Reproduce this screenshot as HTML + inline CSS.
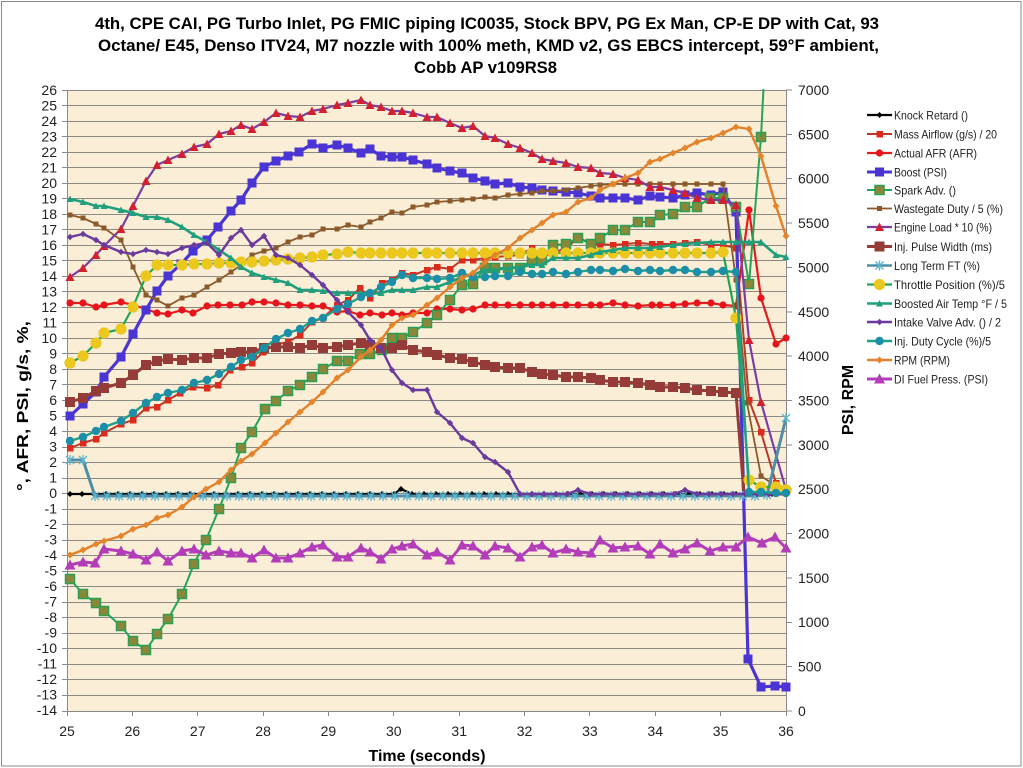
<!DOCTYPE html>
<html><head><meta charset="utf-8"><style>
html,body{margin:0;padding:0;background:#fff;}
svg{display:block;}
text{font-family:"Liberation Sans",Arial,sans-serif;}
</style></head><body>
<svg width="1023" height="768" viewBox="0 0 1023 768" xmlns="http://www.w3.org/2000/svg">
<defs>
<marker id="mKnock" markerUnits="userSpaceOnUse" markerWidth="8" markerHeight="8" refX="4" refY="4" overflow="visible"><path d="M4,1 L7,4 L4,7 L1,4Z" fill="#000"/></marker>
<marker id="mMaf" markerUnits="userSpaceOnUse" markerWidth="8" markerHeight="8" refX="4" refY="4" overflow="visible"><rect x="1" y="1" width="6.5" height="6.5" fill="#dc2a1c"/></marker>
<marker id="mAfr" markerUnits="userSpaceOnUse" markerWidth="8" markerHeight="8" refX="4" refY="4" overflow="visible"><circle cx="4" cy="4" r="3.6" fill="#e8141c"/></marker>
<marker id="mBoost" markerUnits="userSpaceOnUse" markerWidth="10" markerHeight="10" refX="5" refY="5" overflow="visible"><rect x="0.5" y="0.5" width="9" height="9" fill="#4a35d4"/></marker>
<marker id="mSpark" markerUnits="userSpaceOnUse" markerWidth="10" markerHeight="10" refX="5" refY="5" overflow="visible"><rect x="0.5" y="0.5" width="9" height="9" fill="#8a8838" stroke="#2a9e52" stroke-width="1.5"/></marker>
<marker id="mWg" markerUnits="userSpaceOnUse" markerWidth="6" markerHeight="6" refX="3" refY="3" overflow="visible"><rect x="0.5" y="0.5" width="5" height="5" fill="#8b5a2b"/></marker>
<marker id="mLoad" markerUnits="userSpaceOnUse" markerWidth="10" markerHeight="10" refX="5" refY="5" overflow="visible"><path d="M5,0.5 L9.5,9 L0.5,9Z" fill="#d41f2e"/></marker>
<marker id="mIpw" markerUnits="userSpaceOnUse" markerWidth="11" markerHeight="11" refX="5.5" refY="5.5" overflow="visible"><rect x="0.5" y="0.5" width="10" height="10" fill="#953b38"/></marker>
<marker id="mLtft" markerUnits="userSpaceOnUse" markerWidth="10" markerHeight="10" refX="5" refY="5" overflow="visible"><path d="M1,1 L9,9 M9,1 L1,9 M5,0 L5,10" stroke="#5ab4d0" stroke-width="1.3"/></marker>
<marker id="mTps" markerUnits="userSpaceOnUse" markerWidth="12" markerHeight="12" refX="6" refY="6" overflow="visible"><circle cx="6" cy="6" r="5.6" fill="#ecc81e"/></marker>
<marker id="mBat" markerUnits="userSpaceOnUse" markerWidth="8" markerHeight="8" refX="4" refY="4" overflow="visible"><path d="M4,0.5 L7.5,7 L0.5,7Z" fill="#1f9f7c"/></marker>
<marker id="mIva" markerUnits="userSpaceOnUse" markerWidth="8" markerHeight="8" refX="4" refY="4" overflow="visible"><path d="M4,0.8 L7.2,4 L4,7.2 L0.8,4Z" fill="#6a3a9c"/></marker>
<marker id="mIdc" markerUnits="userSpaceOnUse" markerWidth="9" markerHeight="9" refX="4.5" refY="4.5" overflow="visible"><circle cx="4.5" cy="4.5" r="4.2" fill="#1d8ea8"/></marker>
<marker id="mRpm" markerUnits="userSpaceOnUse" markerWidth="8" markerHeight="8" refX="4" refY="4" overflow="visible"><path d="M4,0.5 L7.5,4 L4,7.5 L0.5,4Z" fill="#e5852a"/></marker>
<marker id="mDi" markerUnits="userSpaceOnUse" markerWidth="12" markerHeight="12" refX="6" refY="6" overflow="visible"><path d="M6,0.5 L11.5,10.5 L0.5,10.5Z" fill="#b33cb8"/></marker>
<clipPath id="plotclip"><rect x="55" y="89" width="745" height="624"/></clipPath>
</defs>

<!-- outer border -->
<rect x="1.5" y="1.5" width="1019.5" height="764.5" fill="#fff" stroke="#8a8a8a" stroke-width="1"/>

<!-- title -->
<g font-weight="bold" font-size="17" fill="#000" text-anchor="start">
<text x="95" y="29" textLength="784" lengthAdjust="spacingAndGlyphs">4th, CPE CAI, PG Turbo Inlet, PG FMIC piping  IC0035, Stock BPV, PG Ex Man, CP-E DP with Cat, 93</text>
<text x="98" y="51" textLength="781" lengthAdjust="spacingAndGlyphs">Octane/ E45, Denso ITV24, M7 nozzle with 100% meth, KMD v2, GS EBCS intercept,  59°F ambient,</text>
<text x="414" y="73" textLength="143" lengthAdjust="spacingAndGlyphs">Cobb AP v109RS8</text>
</g>

<!-- plot background -->
<rect x="67" y="90" width="719" height="621" fill="#fbeed6"/>

<!-- gridlines -->
<g stroke="#8d8983" stroke-width="1">
<line x1="67" x2="786" y1="90.5" y2="90.5"/><line x1="67" x2="786" y1="105.5" y2="105.5"/><line x1="67" x2="786" y1="121.5" y2="121.5"/><line x1="67" x2="786" y1="136.5" y2="136.5"/><line x1="67" x2="786" y1="152.5" y2="152.5"/><line x1="67" x2="786" y1="167.5" y2="167.5"/><line x1="67" x2="786" y1="183.5" y2="183.5"/><line x1="67" x2="786" y1="198.5" y2="198.5"/><line x1="67" x2="786" y1="214.5" y2="214.5"/><line x1="67" x2="786" y1="229.5" y2="229.5"/><line x1="67" x2="786" y1="245.5" y2="245.5"/><line x1="67" x2="786" y1="260.5" y2="260.5"/><line x1="67" x2="786" y1="276.5" y2="276.5"/><line x1="67" x2="786" y1="291.5" y2="291.5"/><line x1="67" x2="786" y1="307.5" y2="307.5"/><line x1="67" x2="786" y1="322.5" y2="322.5"/><line x1="67" x2="786" y1="338.5" y2="338.5"/><line x1="67" x2="786" y1="353.5" y2="353.5"/><line x1="67" x2="786" y1="369.5" y2="369.5"/><line x1="67" x2="786" y1="384.5" y2="384.5"/><line x1="67" x2="786" y1="400.5" y2="400.5"/><line x1="67" x2="786" y1="416.5" y2="416.5"/><line x1="67" x2="786" y1="431.5" y2="431.5"/><line x1="67" x2="786" y1="447.5" y2="447.5"/><line x1="67" x2="786" y1="462.5" y2="462.5"/><line x1="67" x2="786" y1="478.5" y2="478.5"/><line x1="67" x2="786" y1="493.5" y2="493.5"/><line x1="67" x2="786" y1="509.5" y2="509.5"/><line x1="67" x2="786" y1="524.5" y2="524.5"/><line x1="67" x2="786" y1="540.5" y2="540.5"/><line x1="67" x2="786" y1="555.5" y2="555.5"/><line x1="67" x2="786" y1="571.5" y2="571.5"/><line x1="67" x2="786" y1="586.5" y2="586.5"/><line x1="67" x2="786" y1="602.5" y2="602.5"/><line x1="67" x2="786" y1="617.5" y2="617.5"/><line x1="67" x2="786" y1="633.5" y2="633.5"/><line x1="67" x2="786" y1="648.5" y2="648.5"/><line x1="67" x2="786" y1="664.5" y2="664.5"/><line x1="67" x2="786" y1="679.5" y2="679.5"/><line x1="67" x2="786" y1="695.5" y2="695.5"/>
</g>

<!-- axes -->
<g stroke="#8a8a8a" stroke-width="1">
<line x1="67.5" y1="90" x2="67.5" y2="711"/>
<line x1="786.5" y1="90" x2="786.5" y2="711"/>
<line x1="62" y1="711.5" x2="786" y2="711.5"/>
<!-- left ticks -->
<path d="M62,90.5h5M62,105.5h5M62,121.5h5M62,136.5h5M62,152.5h5M62,167.5h5M62,183.5h5M62,198.5h5M62,214.5h5M62,229.5h5M62,245.5h5M62,260.5h5M62,276.5h5M62,291.5h5M62,307.5h5M62,322.5h5M62,338.5h5M62,353.5h5M62,369.5h5M62,384.5h5M62,400.5h5M62,416.5h5M62,431.5h5M62,447.5h5M62,462.5h5M62,478.5h5M62,493.5h5M62,509.5h5M62,524.5h5M62,540.5h5M62,555.5h5M62,571.5h5M62,586.5h5M62,602.5h5M62,617.5h5M62,633.5h5M62,648.5h5M62,664.5h5M62,679.5h5M62,695.5h5"/>
<!-- right ticks -->
<path d="M786,711h6M786,666.5h6M786,622.5h6M786,578h6M786,533.5h6M786,489h6M786,445h6M786,400.5h6M786,356h6M786,312h6M786,267.5h6M786,223h6M786,178.5h6M786,134.5h6M786,90h6"/>
<!-- x ticks -->
<path d="M67.5,711v5M132.5,711v5M197.5,711v5M263.5,711v5M328.5,711v5M393.5,711v5M459.5,711v5M524.5,711v5M589.5,711v5M655.5,711v5M720.5,711v5M786.5,711v5"/>
</g>

<!-- left tick labels -->
<g font-size="14" fill="#222" text-anchor="end">
<text x="57" y="95">26</text><text x="57" y="110.5">25</text><text x="57" y="126">24</text><text x="57" y="141.5">23</text><text x="57" y="157">22</text><text x="57" y="172.5">21</text><text x="57" y="188">20</text><text x="57" y="203.5">19</text><text x="57" y="219">18</text><text x="57" y="234.5">17</text><text x="57" y="250">16</text><text x="57" y="265.5">15</text><text x="57" y="281">14</text><text x="57" y="296.5">13</text><text x="57" y="312">12</text><text x="57" y="327.5">11</text><text x="57" y="343">10</text><text x="57" y="358.5">9</text><text x="57" y="374">8</text><text x="57" y="389.5">7</text><text x="57" y="405">6</text><text x="57" y="420.5">5</text><text x="57" y="436">4</text><text x="57" y="451.5">3</text><text x="57" y="467">2</text><text x="57" y="482.5">1</text><text x="57" y="498">0</text><text x="57" y="513.5">-1</text><text x="57" y="529">-2</text><text x="57" y="544.5">-3</text><text x="57" y="560">-4</text><text x="57" y="575.5">-5</text><text x="57" y="591">-6</text><text x="57" y="606.5">-7</text><text x="57" y="622">-8</text><text x="57" y="637.5">-9</text><text x="57" y="653">-10</text><text x="57" y="668.5">-11</text><text x="57" y="684">-12</text><text x="57" y="699.5">-13</text><text x="57" y="715">-14</text>
</g>

<!-- right tick labels -->
<g font-size="14" fill="#222" text-anchor="start">
<text x="798" y="716">0</text><text x="798" y="671.5">500</text><text x="798" y="627">1000</text><text x="798" y="583">1500</text><text x="798" y="538.5">2000</text><text x="798" y="494">2500</text><text x="798" y="450">3000</text><text x="798" y="405.5">3500</text><text x="798" y="361">4000</text><text x="798" y="317">4500</text><text x="798" y="272.5">5000</text><text x="798" y="228">5500</text><text x="798" y="183.5">6000</text><text x="798" y="139.5">6500</text><text x="798" y="95">7000</text>
</g>

<!-- x tick labels -->
<g font-size="14" fill="#222" text-anchor="middle">
<text x="67" y="736">25</text><text x="132.4" y="736">26</text><text x="197.7" y="736">27</text><text x="263.1" y="736">28</text><text x="328.4" y="736">29</text><text x="393.8" y="736">30</text><text x="459.2" y="736">31</text><text x="524.5" y="736">32</text><text x="589.9" y="736">33</text><text x="655.2" y="736">34</text><text x="720.6" y="736">35</text><text x="786" y="736">36</text>
</g>

<!-- axis titles -->
<text x="427" y="761" font-size="16" font-weight="bold" text-anchor="middle" fill="#000">Time (seconds)</text>
<text transform="translate(28,406) rotate(-90)" font-size="16" font-weight="bold" text-anchor="middle" fill="#000" textLength="170" lengthAdjust="spacingAndGlyphs">°, AFR, PSI, g/s, %,</text>
<text transform="translate(853,400) rotate(-90)" font-size="16" font-weight="bold" text-anchor="middle" fill="#000">PSI, RPM</text>

<!-- series -->
<g clip-path="url(#plotclip)" fill="none" stroke-linejoin="round">
<!-- Knock -->
<polyline stroke="#000" stroke-width="2.2" marker-start="url(#mKnock)" marker-mid="url(#mKnock)" marker-end="url(#mKnock)" points="70,494 82,494 94,494 106,494 118,494 130,494 142,494 154,494 166,494 178,494 190,494 202,494 214,494 226,494 238,494 250,494 262,494 274,494 286,494 298,494 310,494 322,494 334,494 346,494 358,494 370,494 382,494 394,494 401,489 412,494 424,494 436,494 448,494 460,494 472,494 484,494 496,494 508,494 520,494 532,494 544,494 556,494 568,494 580,494 592,494 604,494 616,494 628,494 640,494 652,494 664,494 676,494 688,494 700,494 712,494 724,494 736,494 748,494 760,494 772,494 786,494"/>
<!-- Mass Airflow -->
<polyline stroke="#b8392b" stroke-width="2" marker-start="url(#mMaf)" marker-mid="url(#mMaf)" marker-end="url(#mMaf)" points="70,448 83,443 96,439 104,433 121,424 133,420 146,408 157,407 168,400 180,393 193,387 207,388 218,385 230,370 242,367 252,363 263,352 275,345 288,342 300,335 312,322 323,318 337,305 348,300 360,288 370,298 382,283 392,280 402,273 413,275 427,270 437,267 450,269 462,260 473,260 485,258 495,257 508,256 520,255 532,248 542,258 553,252 566,249 578,237 591,244 600,244 613,245 625,244 638,243 652,244 660,244 673,244 685,243 697,242 711,245 723,245 736,248 749,400 761,432 776,483 786,490"/>
<!-- Actual AFR -->
<polyline stroke="#e41a1c" stroke-width="2.2" marker-start="url(#mAfr)" marker-mid="url(#mAfr)" marker-end="url(#mAfr)" points="70,303 83,303 96,307 104,305 121,302 133,305 146,309 157,313 168,314 182,310 193,313 207,306 218,305 230,305 242,305 252,302 264,302 276,303 288,305 300,305 312,306 323,306 337,312 348,311 360,315 370,313 382,315 392,313 402,315 413,313 427,313 437,309 450,309 462,310 473,309 485,305 495,305 508,305 520,305 532,305 542,305 553,305 566,305 578,305 591,305 600,305 613,303 625,305 638,306 652,305 660,305 673,305 685,304 697,303 711,303 723,305 736,306 749,210 761,298 776,344 786,338"/>
<!-- Boost -->
<polyline stroke="#4b35d2" stroke-width="3.2" marker-start="url(#mBoost)" marker-mid="url(#mBoost)" marker-end="url(#mBoost)" points="70,416 83,404 96,392 104,377 121,357 133,334 146,310 157,291 168,276 181,264 193,251 207,240 218,227 231,211 241,200 252,183 264,167 276,161 288,156 299,152 312,144 323,148 337,145 348,148 361,153 370,149 381,156 392,157 402,157 413,160 427,164 437,168 450,171 462,173 473,178 485,181 495,184 508,183 520,187 532,188 542,190 553,191 566,192 578,193 591,196 600,198 613,198 625,198 638,200 650,196 660,197 673,198 685,195 697,193 711,195 723,192 736,212 748,659 761,687 775,686 786,687"/>
<!-- Spark Adv -->
<polyline stroke="#25a55a" stroke-width="2" marker-start="url(#mSpark)" marker-mid="url(#mSpark)" marker-end="url(#mSpark)" points="70,579 83,594 96,603 104,611 121,626 133,641 146,650 157,634 168,619 182,594 194,564 206,540 219,509 231,478 241,448 252,432 265,409 276,401 288,391 300,385 312,377 323,369 337,361 348,361 360,354 370,354 382,350 392,338 402,338 413,332 427,323 437,315 450,300 462,285 473,284 485,268 495,268 508,268 520,268 532,260 542,260 553,245 566,244 578,238 591,244 600,238 613,230 625,230 638,222 650,222 660,215 673,214 685,207 697,207 710,198 723,198 736,207 749,284 761,137"/>
<polyline stroke="#25a55a" stroke-width="2" points="761,137 766,40"/>
<!-- Wastegate -->
<polyline stroke="#8b5a2b" stroke-width="1.8" marker-start="url(#mWg)" marker-mid="url(#mWg)" marker-end="url(#mWg)" points="70,215 83,218 96,224 104,228 121,240 133,267 146,295 157,300 168,306 182,298 194,295 207,287 219,280 231,272 241,265 252,255 264,251 276,248 288,242 300,237 312,235 323,229 337,229 348,225 361,227 370,222 381,218 392,212 402,213 413,207 427,205 437,202 450,201 462,200 473,199 485,197 495,198 508,195 520,194 532,193 542,191 553,191 566,190 578,188 591,186 600,185 613,184 625,184 638,184 650,184 660,184 673,184 685,184 697,184 711,184 723,184 736,280 747,403 761,476 776,486 786,492"/>
<!-- Engine Load -->
<polyline stroke="#7a3ea2" stroke-width="2.2" marker-start="url(#mLoad)" marker-mid="url(#mLoad)" marker-end="url(#mLoad)" points="70,277 83,268 96,255 104,246 121,229 133,206 146,181 157,165 168,160 182,154 194,147 207,144 219,134 231,131 241,125 252,129 264,122 276,113 288,116 300,117 312,111 323,109 337,105 348,103 361,100 370,105 381,107 392,111 402,111 413,113 427,117 437,117 450,123 462,128 473,126 485,136 495,138 508,144 520,148 532,153 542,159 553,161 566,163 578,167 591,168 600,173 613,174 625,178 638,180 650,187 660,187 673,190 685,193 697,198 711,200 723,200 736,205 749,340 761,402 786,490"/>
<!-- Inj Pulse Width -->
<polyline stroke="#953b38" stroke-width="3" marker-start="url(#mIpw)" marker-mid="url(#mIpw)" marker-end="url(#mIpw)" points="70,402 83,398 96,391 104,388 121,383 133,375 146,365 157,361 168,359 182,360 194,358 207,358 219,354 231,353 241,352 252,352 264,348 276,347 288,347 300,348 312,345 323,348 337,347 348,345 361,343 370,345 381,348 392,348 402,345 413,350 427,352 437,355 450,358 462,359 473,362 485,365 495,367 508,368 520,368 532,372 542,374 553,375 566,377 578,377 591,378 600,380 613,382 625,382 638,383 650,385 660,387 673,387 685,388 697,390 711,391 723,392 736,393"/>
<polyline stroke="#953b38" stroke-width="3" points="736,393 744,494 786,494"/>
<!-- Long Term FT -->
<polyline stroke="#4f8ea6" stroke-width="3" marker-start="url(#mLtft)" marker-mid="url(#mLtft)" marker-end="url(#mLtft)" points="70,460 83,460 95,496 107,496 119,496 131,496 143,496 155,496 167,496 179,496 191,496 203,496 215,496 227,496 239,496 251,496 263,496 275,496 287,496 299,496 311,496 323,496 335,496 347,496 359,496 371,496 383,496 395,496 407,496 419,496 431,496 443,496 455,496 467,496 479,496 491,496 503,496 515,496 527,496 539,496 551,496 563,496 575,496 587,496 599,496 611,496 623,496 635,496 647,496 659,496 671,496 683,496 695,496 707,496 719,496 731,496 743,496 755,496 767,495 786,418"/>
<!-- Throttle -->
<polyline stroke="#21a650" stroke-width="2.2" marker-start="url(#mTps)" marker-mid="url(#mTps)" marker-end="url(#mTps)" points="70,363 83,356 96,343 104,333 121,329 133,307 146,276 157,265 168,265 182,265 194,264 207,264 219,263 231,263 241,262 252,262 264,261 276,260 288,259 300,258 312,257 323,255 337,254 348,252 361,253 370,253 381,253 392,253 402,253 413,253 427,253 437,253 450,253 462,253 473,253 485,253 495,253 508,253 520,253 532,253 542,253 553,253 566,253 578,253 591,253 600,253 613,253 625,253 638,253 650,253 660,253 673,253 685,253 697,253 711,253 723,252 736,318 749,480 761,487 776,487 786,490"/>
<!-- Boosted Air Temp -->
<polyline stroke="#1f9f7c" stroke-width="2.6" marker-start="url(#mBat)" marker-mid="url(#mBat)" marker-end="url(#mBat)" points="70,199 83,202 96,206 104,206 121,210 133,213 146,217 157,217 168,220 182,227 194,235 207,242 219,250 231,258 241,267 252,273 264,277 276,280 288,283 300,290 312,290 323,291 337,293 348,293 361,293 370,294 381,293 392,290 402,290 413,290 427,287 437,287 450,282 462,277 473,275 485,270 495,270 508,268 520,267 532,265 542,265 553,258 566,258 578,258 591,255 600,252 613,250 625,248 638,248 650,248 660,247 673,245 685,244 697,243 711,242 723,242 736,242 749,242 761,242 776,255 786,257"/>
<!-- Intake Valve Adv -->
<polyline stroke="#6a3a9c" stroke-width="2.4" marker-start="url(#mIva)" marker-mid="url(#mIva)" marker-end="url(#mIva)" points="70,237 83,234 96,240 104,245 121,252 133,254 146,250 157,252 168,254 182,248 194,245 207,243 219,255 231,238 241,230 252,245 264,236 276,255 288,258 300,265 312,275 323,285 337,300 348,312 361,325 370,340 381,348 392,370 402,383 413,390 427,390 437,412 450,423 462,438 473,443 485,457 495,462 508,472 520,494 532,494 544,494 556,494 567,494 578,490 590,494 602,494 614,494 626,494 638,494 650,494 662,494 674,494 685,490 697,494 709,494 721,494 733,494 745,494 757,494 769,494 786,494"/>
<!-- Inj Duty Cycle -->
<polyline stroke="#1fa088" stroke-width="2.4" marker-start="url(#mIdc)" marker-mid="url(#mIdc)" marker-end="url(#mIdc)" points="70,441 83,437 96,431 104,427 121,421 133,413 146,403 157,397 168,393 182,390 194,383 207,380 219,374 231,367 241,360 252,357 264,348 276,339 288,333 300,329 312,321 323,318 337,309 348,304 361,297 370,293 381,287 392,282 402,275 413,278 427,278 437,279 450,278 462,273 473,277 485,277 495,276 508,276 520,272 532,274 542,274 553,272 566,274 578,272 591,270 600,270 613,271 625,269 638,271 650,270 660,271 673,270 685,270 697,272 711,272 723,271 736,272 749,492 761,492 776,493 786,493"/>
<!-- RPM -->
<polyline stroke="#e2802c" stroke-width="2.4" marker-start="url(#mRpm)" marker-mid="url(#mRpm)" marker-end="url(#mRpm)" points="70,555 83,550 96,544 104,541 121,536 133,529 146,525 157,518 168,515 182,507 194,497 206,489 219,482 231,470 241,461 252,454 265,443 276,433 288,422 300,412 312,402 323,392 337,378 348,370 361,357 370,350 381,340 392,325 402,318 413,315 427,305 437,298 450,287 462,278 473,273 485,262 495,255 508,248 520,238 532,230 542,223 553,215 566,212 578,202 591,198 600,190 613,184 625,178 638,173 650,162 660,159 673,153 685,148 697,142 711,138 723,133 736,127 749,129 761,156 776,206 786,236"/>
<!-- DI Fuel Press -->
<polyline stroke="#b33cb8" stroke-width="3" marker-start="url(#mDi)" marker-mid="url(#mDi)" marker-end="url(#mDi)" points="70,565 83,562 95,563 104,549 121,551 133,554 146,560 157,552 168,561 182,551 194,549 206,555 219,551 231,553 241,553 252,558 264,550 276,558 288,558 300,553 312,547 323,545 337,557 348,557 361,548 370,552 381,559 392,549 402,546 413,544 427,555 437,552 450,560 462,545 473,546 485,555 495,546 508,548 520,557 532,547 542,545 553,553 566,549 578,552 591,553 600,540 613,548 625,547 638,546 650,554 660,544 673,553 685,549 697,543 710,551 723,547 736,547 748,537 762,543 775,537 786,548"/>
</g>

<!-- legend -->
<g fill="none">
<polyline stroke="#000" stroke-width="2.2" marker-mid="url(#mKnock)" points="867,115 879.5,115 892,115"/>
<polyline stroke="#b8392b" stroke-width="2" marker-mid="url(#mMaf)" points="867,134 879.5,134 892,134"/>
<polyline stroke="#e41a1c" stroke-width="2.2" marker-mid="url(#mAfr)" points="867,153 879.5,153 892,153"/>
<polyline stroke="#4b35d2" stroke-width="3" marker-mid="url(#mBoost)" points="867,172 879.5,172 892,172"/>
<polyline stroke="#25a55a" stroke-width="2" marker-mid="url(#mSpark)" points="867,190 879.5,190 892,190"/>
<polyline stroke="#8b5a2b" stroke-width="1.8" marker-mid="url(#mWg)" points="867,208.5 879.5,208.5 892,208.5"/>
<polyline stroke="#7a3ea2" stroke-width="2.2" marker-mid="url(#mLoad)" points="867,227 879.5,227 892,227"/>
<polyline stroke="#953b38" stroke-width="3" marker-mid="url(#mIpw)" points="867,246.5 879.5,246.5 892,246.5"/>
<polyline stroke="#4f8ea6" stroke-width="2.6" marker-mid="url(#mLtft)" points="867,265.5 879.5,265.5 892,265.5"/>
<polyline stroke="#21a650" stroke-width="2.2" marker-mid="url(#mTps)" points="867,284.5 879.5,284.5 892,284.5"/>
<polyline stroke="#1f9f7c" stroke-width="2.4" marker-mid="url(#mBat)" points="867,303.5 879.5,303.5 892,303.5"/>
<polyline stroke="#6a3a9c" stroke-width="2.4" marker-mid="url(#mIva)" points="867,322 879.5,322 892,322"/>
<polyline stroke="#1fa088" stroke-width="2.4" marker-mid="url(#mIdc)" points="867,341 879.5,341 892,341"/>
<polyline stroke="#e2802c" stroke-width="2.4" marker-mid="url(#mRpm)" points="867,360 879.5,360 892,360"/>
<polyline stroke="#b33cb8" stroke-width="3" marker-mid="url(#mDi)" points="867,379 879.5,379 892,379"/>
</g>
<g font-size="12" fill="#222">
<text x="894" y="119.5" textLength="74" lengthAdjust="spacingAndGlyphs">Knock Retard ()</text>
<text x="894" y="138.5" textLength="103" lengthAdjust="spacingAndGlyphs">Mass Airflow (g/s) / 20</text>
<text x="894" y="157.5" textLength="83" lengthAdjust="spacingAndGlyphs">Actual AFR (AFR)</text>
<text x="894" y="176.5" textLength="53" lengthAdjust="spacingAndGlyphs">Boost (PSI)</text>
<text x="894" y="194.5" textLength="62" lengthAdjust="spacingAndGlyphs">Spark Adv. ()</text>
<text x="894" y="213" textLength="109" lengthAdjust="spacingAndGlyphs">Wastegate Duty / 5 (%)</text>
<text x="894" y="231.5" textLength="98" lengthAdjust="spacingAndGlyphs">Engine Load * 10 (%)</text>
<text x="894" y="251" textLength="98" lengthAdjust="spacingAndGlyphs">Inj. Pulse Width (ms)</text>
<text x="894" y="270" textLength="86" lengthAdjust="spacingAndGlyphs">Long Term FT (%)</text>
<text x="894" y="289" textLength="111" lengthAdjust="spacingAndGlyphs">Throttle Position (%)/5</text>
<text x="894" y="308" textLength="113" lengthAdjust="spacingAndGlyphs">Boosted Air Temp °F / 5</text>
<text x="894" y="326.5" textLength="107" lengthAdjust="spacingAndGlyphs">Intake Valve Adv. () / 2</text>
<text x="894" y="345.5" textLength="97" lengthAdjust="spacingAndGlyphs">Inj. Duty Cycle (%)/5</text>
<text x="894" y="364.5" textLength="56" lengthAdjust="spacingAndGlyphs">RPM (RPM)</text>
<text x="894" y="383.5" textLength="94" lengthAdjust="spacingAndGlyphs">DI Fuel Press. (PSI)</text>
</g>
</svg>
</body></html>
